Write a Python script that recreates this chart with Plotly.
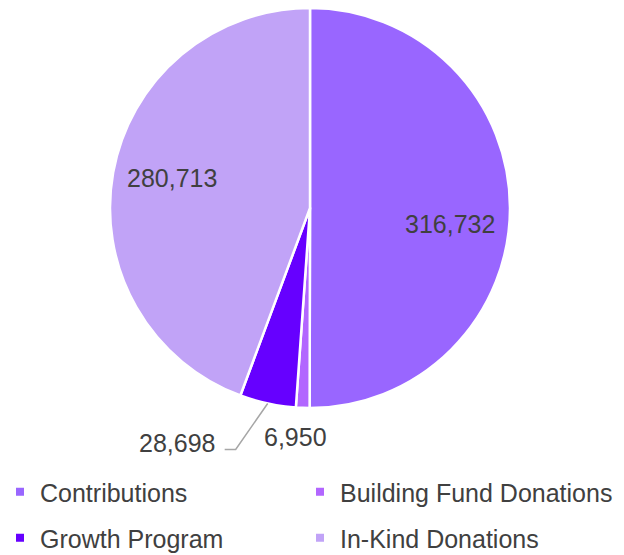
import math
import plotly.graph_objects as go

categories = ["Contributions", "Building Fund Donations", "Growth Program", "In-Kind Donations"]
values = [316732, 6950, 28698, 280713]
colors = ["#9966FF", "#B266FF", "#6600FF", "#C1A3F7"]

# ---- layout / style ----
label_modes = ["inside", "below", "leader", "inside"]
label_dy = [16, 1, 0, -5]   # small vertical nudges of the value labels (px)
W, H = 624, 555
HL = 590                   # layout height (extra space below the visible window)
CX, CY, R = 310, 208, 200  # pie centre / radius in px
FONT = "Liberation Sans, Arial, sans-serif"
TXT = "#404040"
FS = 25


def px2paper(x, y):
    return x / W, 1 - y / HL


dom_x = [(CX - R) / W, (CX + R) / W]
dom_y = [1 - (CY + R) / HL, 1 - (CY - R) / HL]

fig = go.Figure()
fig.add_trace(go.Pie(
    labels=categories,
    values=values,
    sort=False,
    direction="clockwise",
    rotation=0,
    marker=dict(colors=colors, line=dict(color="white", width=2.5)),
    textinfo="none",
    domain=dict(x=dom_x, y=dom_y),
    hoverinfo="label+value+percent",
    showlegend=False,
))

total = sum(values)
cum = 0.0
annotations = []
shapes = []
lab_font = dict(family=FONT, size=FS, color=TXT)
for cat, v, mode, dy in zip(categories, values, label_modes, label_dy):
    a0 = cum / total * 360
    cum += v
    a1 = cum / total * 360
    mid = math.radians((a0 + a1) / 2)
    sx, sy = math.sin(mid), -math.cos(mid)
    txt = f"{v:,}"
    if mode == "inside":
        r = 0.7 * R
        px, py = CX + r * sx, CY + r * sy + dy
        x, y = px2paper(px, py)
        annotations.append(dict(x=x, y=y, xref="paper", yref="paper", text=txt,
                                showarrow=False, xanchor="center", yanchor="middle",
                                font=lab_font))
    elif mode == "below":
        r = 1.14 * R
        px, py = CX + r * sx - 6, CY + r * sy + dy
        x, y = px2paper(px, py)
        annotations.append(dict(x=x, y=y, xref="paper", yref="paper", text=txt,
                                showarrow=False, xanchor="center", yanchor="middle",
                                font=lab_font))
    else:
        ex, ey = CX + R * sx, CY + R * sy
        kx, ky = ex - 32, ey + 46
        hx, hy = kx - 11, ky
        p = [px2paper(ex, ey), px2paper(kx, ky), px2paper(hx, hy)]
        shapes.append(dict(type="path", xref="paper", yref="paper",
                           path=f"M {p[0][0]},{p[0][1]} L {p[1][0]},{p[1][1]} L {p[2][0]},{p[2][1]}",
                           line=dict(color="#A6A6A6", width=1.5)))
        x, y = px2paper(hx - 8, hy - 6 + dy)
        annotations.append(dict(x=x, y=y, xref="paper", yref="paper", text=txt,
                                showarrow=False, xanchor="right", yanchor="middle",
                                font=lab_font))

# legend entries: 2 x 2 grid, one legend per entry
legend_cols = [0, 300, 0, 300]   # px offset of each entry's legend box
legend_rows = [492, 492, 538, 538]
legend_layout = {}
for i, (cat, col) in enumerate(zip(categories, colors)):
    key = "legend" if i == 0 else f"legend{i + 1}"
    fig.add_trace(go.Scatter(
        x=[None], y=[None], mode="markers", name=cat,
        marker=dict(symbol="square", size=8, color=col),
        legend=key,
        hoverinfo="skip",
    ))
    lx, ly = px2paper(legend_cols[i], legend_rows[i])
    legend_layout[key] = dict(
        x=lx, y=ly,
        xanchor="left", yanchor="middle", orientation="h",
        font=dict(family=FONT, size=FS, color=TXT),
        itemwidth=30, bgcolor="rgba(0,0,0,0)",
    )

fig.update_layout(
    width=W, height=HL,
    margin=dict(l=0, r=0, t=0, b=0),
    paper_bgcolor="white",
    plot_bgcolor="white",
    xaxis=dict(visible=False),
    yaxis=dict(visible=False),
    annotations=annotations,
    shapes=shapes,
    **legend_layout,
)

fig.write_html(
    "out.html",
    config={"displayModeBar": False},
    post_script="document.body.style.margin='0';document.body.style.overflow='hidden';",
)
